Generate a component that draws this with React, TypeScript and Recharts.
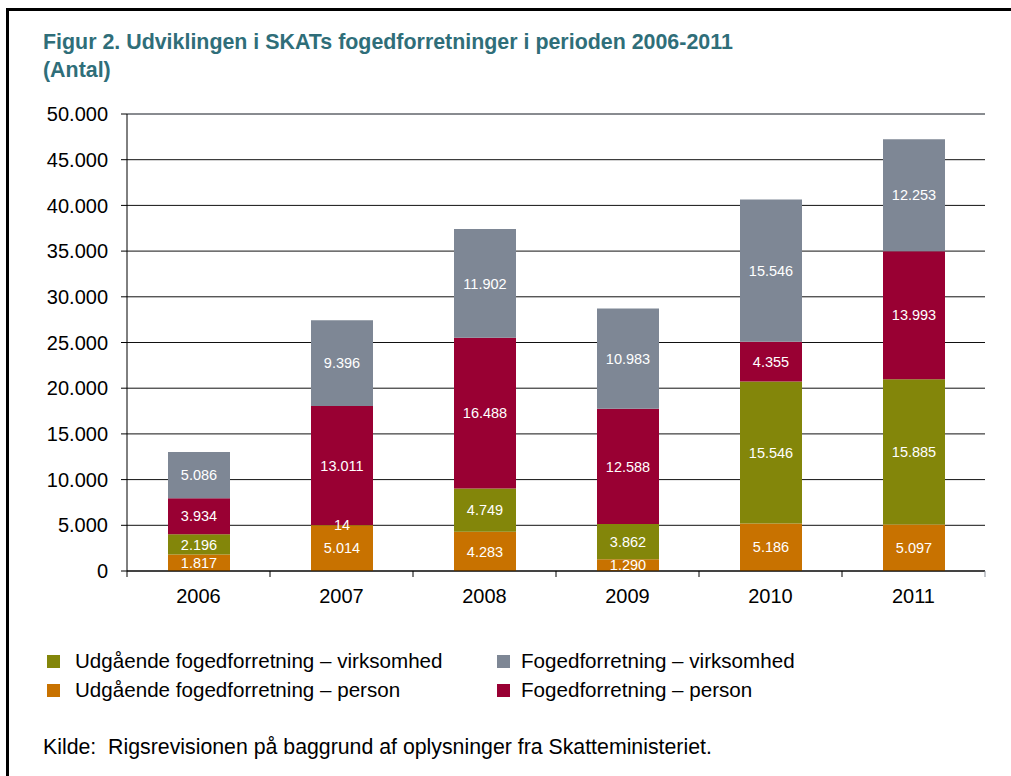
import React from 'react';
import { BarChart, Bar, XAxis, YAxis, CartesianGrid, LabelList, ReferenceLine } from 'recharts';

const years = ['2006', '2007', '2008', '2009', '2010', '2011'];
const udgPerson = [1817, 5014, 4283, 1290, 5186, 5097];
const udgVirksomhed = [2196, 14, 4749, 3862, 15546, 15885];
const fogPerson = [3934, 13011, 16488, 12588, 4355, 13993];
const fogVirksomhed = [5086, 9396, 11902, 10983, 15546, 12253];
const yTicks = [0, 5000, 10000, 15000, 20000, 25000, 30000, 35000, 40000, 45000, 50000];

const series = [
  { key: 'udgPerson', name: 'Udgående fogedforretning – person', color: '#C87200', values: udgPerson },
  { key: 'udgVirksomhed', name: 'Udgående fogedforretning – virksomhed', color: '#83860A', values: udgVirksomhed },
  { key: 'fogPerson', name: 'Fogedforretning – person', color: '#990033', values: fogPerson },
  { key: 'fogVirksomhed', name: 'Fogedforretning – virksomhed', color: '#7E8795', values: fogVirksomhed },
];

const data = years.map((y, i) => {
  const row: any = { year: y };
  series.forEach((s) => { row[s.key] = s.values[i]; });
  return row;
});

const fmt = (n: any) => String(n).replace(/\B(?=(\d{3})+(?!\d))/g, '.');

const FONT = '"Liberation Sans", Arial, Helvetica, sans-serif';
const CHART_W = 1011;
const M_LEFT = 0;
const Y_W = 127;
const M_RIGHT = 26;
const PLOT_W = CHART_W - M_LEFT - Y_W - M_RIGHT;
const HALF_BAND = PLOT_W / years.length / 2;

const XTick = (props: any) => {
  const { x, y, payload, index } = props;
  return (
    <g>
      <line x1={x - HALF_BAND} x2={x - HALF_BAND} y1={y} y2={y + 6} stroke="#000" strokeWidth={1} />
      {index === years.length - 1 && (
        <line x1={x + HALF_BAND} x2={x + HALF_BAND} y1={y} y2={y + 6} stroke="#8a9099" strokeWidth={1} />
      )}
      <text x={x} y={y + 32} textAnchor="middle" fontSize={20} fontFamily={FONT} fill="#000">
        {payload.value}
      </text>
    </g>
  );
};

const legendCols = [
  [series[1], series[0]],
  [series[3], series[2]],
];

export default function App() {
  return (
    <div style={{ position: 'absolute', left: 0, top: 0, width: 1011, height: 776, background: '#fff', fontFamily: FONT, overflow: 'hidden' }}>
      <div style={{ position: 'absolute', left: 6, top: 8, width: 1100, height: 900, borderTop: '3px solid #000', borderLeft: '3px solid #000' }} />
      <div style={{ position: 'absolute', left: 43, top: 28, fontSize: 21.4, lineHeight: '28px', fontWeight: 'bold', color: '#2F6E79', whiteSpace: 'nowrap' }}>
        Figur 2. Udviklingen i SKATs fogedforretninger i perioden 2006-2011
        <br />
        (Antal)
      </div>
      <div style={{ position: 'absolute', left: 0, top: 0 }}>
        <BarChart width={CHART_W} height={611} data={data} margin={{ top: 114, right: M_RIGHT, left: M_LEFT, bottom: 0 }}>
          <CartesianGrid vertical={false} stroke="#111" strokeWidth={1} />
          <XAxis dataKey="year" height={40} tickLine={false} tickSize={0} tickMargin={0} axisLine={{ stroke: '#000' }} tick={<XTick />} interval={0} />
          <YAxis
            width={Y_W}
            domain={[0, 50000]}
            ticks={yTicks}
            interval={0}
            tickFormatter={fmt}
            tickSize={6}
            tickMargin={13}
            tickLine={{ stroke: '#000' }}
            axisLine={{ stroke: '#000' }}
            tick={{ fontSize: 20, fill: '#000', fontFamily: FONT }}
          />
          <YAxis yAxisId="border" orientation="right" width={0} tick={false} tickLine={false} axisLine={{ stroke: '#8a9099' }} />
          <ReferenceLine y={50000} stroke="#8a9099" />
          {series.map((s) => (
            <Bar key={s.key} dataKey={s.key} name={s.name} stackId="a" fill={s.color} barSize={62} isAnimationActive={false}>
              <LabelList dataKey={s.key} position="center" formatter={fmt} fill="#fff" fontSize={14.5} fontFamily={FONT} />
            </Bar>
          ))}
        </BarChart>
      </div>
      {legendCols.map((col, ci) =>
        col.map((s, ri) => (
          <div key={s.key} style={{ position: 'absolute', left: ci === 0 ? 47 : 497, top: 648 + ri * 29, height: 26, display: 'flex', alignItems: 'center' }}>
            <div style={{ width: 13, height: 13, background: s.color, marginRight: ci === 0 ? 15 : 11 }} />
            <span style={{ fontSize: 20.6, color: '#000', whiteSpace: 'nowrap' }}>{s.name}</span>
          </div>
        ))
      )}
      <div style={{ position: 'absolute', left: 43, top: 735, fontSize: 21.3, color: '#000', whiteSpace: 'pre' }}>
        {'Kilde:  Rigsrevisionen på baggrund af oplysninger fra Skatteministeriet.'}
      </div>
    </div>
  );
}
